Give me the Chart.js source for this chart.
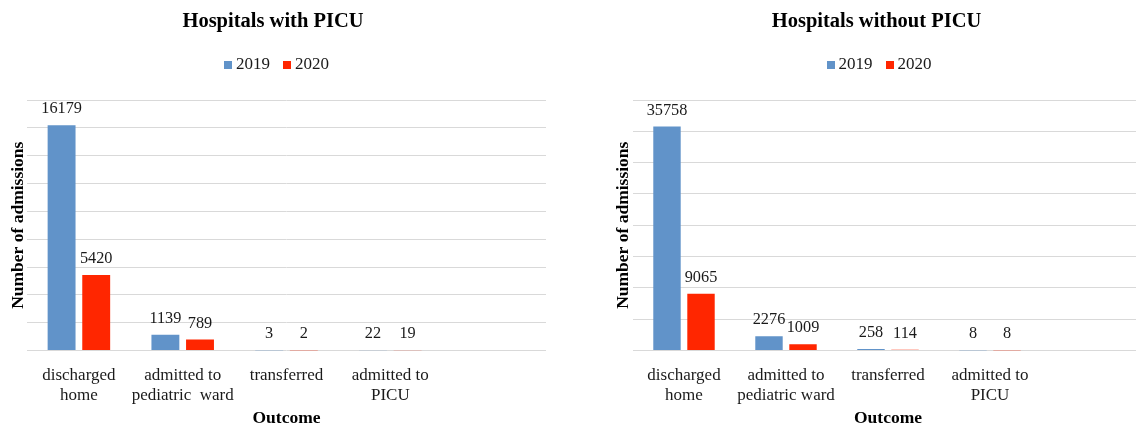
<!DOCTYPE html>
<html>
<head>
<meta charset="utf-8">
<script src="https://cdn.jsdelivr.net/npm/chart.js@4"></script>
<style>
  html, body { margin: 0; padding: 0; background: #fff; overflow: hidden; width: 1136px; height: 429px; }
  .panel { position: absolute; top: 0; width: 560px; height: 429px; }
  #panelWith { left: 0; }
  #panelWithout { left: 600px; }
</style>
</head>
<body>
<div class="panel" id="panelWith"><canvas id="chartWith" width="560" height="429"></canvas></div>
<div class="panel" id="panelWithout"><canvas id="chartWithout" width="560" height="429"></canvas></div>
<script>
// Outcome categories (multi-line tick labels)
const categoriesWithPicu = [['discharged', 'home'], ['admitted to', 'pediatric  ward'], 'transferred', ['admitted to', 'PICU']];
const categoriesWithoutPicu = [['discharged', 'home'], ['admitted to', 'pediatric ward'], 'transferred', ['admitted to', 'PICU']];
const seriesNames = ['2019', '2020'];

// Admissions, hospitals with a PICU
const withPicu2019 = [16179, 1139, 3, 22];
const withPicu2020 = [5420, 789, 2, 19];

// Admissions, hospitals without a PICU
const withoutPicu2019 = [35758, 2276, 258, 8];
const withoutPicu2020 = [9065, 1009, 114, 8];

// Value axis ranges
const withPicuAxis = [0, 18000, 2000];
const withoutPicuAxis = [0, 40000, 5000];

const FAMILY = "'Liberation Serif', 'Times New Roman', serif";
const BLUE = '#6193C9';
const RED = '#FF2600';
const INK = '#1a1a1a';

Chart.defaults.font.family = FAMILY;
Chart.defaults.color = INK;

// Writes each bar's value just above its top
const barValues = {
  id: 'barValues',
  afterDatasetsDraw(chart, args, opts) {
    const ctx = chart.ctx;
    ctx.save();
    ctx.font = opts.size + 'px ' + FAMILY;
    ctx.fillStyle = opts.color;
    ctx.textAlign = 'center';
    ctx.textBaseline = 'alphabetic';
    chart.data.datasets.forEach((ds, i) => {
      chart.getDatasetMeta(i).data.forEach((bar, j) => {
        const v = ds.data[j];
        if (v === null || v === undefined) return;
        ctx.fillText(String(v), bar.x, bar.y - opts.gap);
      });
    });
    ctx.restore();
  }
};

// Series key: small square swatches followed by the series name
const seriesKey = {
  id: 'seriesKey',
  afterDraw(chart, args, opts) {
    const ctx = chart.ctx;
    ctx.save();
    ctx.font = opts.size + 'px ' + FAMILY;
    ctx.textBaseline = 'middle';
    ctx.textAlign = 'left';
    const items = chart.data.datasets.map(ds => ({
      label: ds.label, color: ds.backgroundColor, w: ctx.measureText(ds.label).width
    }));
    const total = items.reduce((s, it) => s + opts.box + opts.gap + it.w, 0) + opts.spacing * (items.length - 1);
    let x = opts.cx - total / 2;
    items.forEach(it => {
      ctx.fillStyle = it.color;
      ctx.fillRect(Math.round(x), Math.round(opts.cy - opts.box / 2), opts.box, opts.box);
      x += opts.box + opts.gap;
      ctx.fillStyle = opts.color;
      ctx.fillText(it.label, x, opts.cy);
      x += it.w + opts.spacing;
    });
    ctx.restore();
  }
};

function buildPanel(canvasId, cfg) {
  return new Chart(document.getElementById(canvasId), {
    type: 'bar',
    data: {
      labels: [...cfg.categories, ''],
      datasets: [
        { label: seriesNames[0], data: cfg.first, backgroundColor: BLUE, borderWidth: 0 },
        { label: seriesNames[1], data: cfg.second, backgroundColor: RED, borderWidth: 0 }
      ]
    },
    options: {
      responsive: false,
      animation: false,
      layout: { padding: { left: cfg.padLeft, right: cfg.padRight, top: 0, bottom: 0 } },
      datasets: { bar: { categoryPercentage: 0.667, barPercentage: 0.806 } },
      plugins: {
        legend: { display: false },
        tooltip: { enabled: false },
        title: {
          display: true,
          text: cfg.title,
          color: '#000',
          font: { size: 20.5, weight: 'bold', family: FAMILY },
          padding: { top: 9, bottom: 66.4 }
        },
        seriesKey: { cx: cfg.keyX, cy: 65, box: 8, gap: 4, spacing: 13, size: 17, color: INK },
        barValues: { size: 16.3, gap: 12, color: INK }
      },
      scales: {
        x: {
          grid: { display: false },
          border: { display: false },
          ticks: {
            autoSkip: false, maxRotation: 0, minRotation: 0, padding: 7.5,
            color: INK, font: { size: 17, lineHeight: 20 / 17 }
          },
          title: { display: true, text: 'Outcome', color: '#000', font: { size: 17.5, weight: 'bold' }, padding: 0 },
          afterFit(scale) { scale.height = 78.5; }
        },
        y: {
          min: cfg.axis[0],
          max: cfg.axis[1],
          ticks: { display: false, stepSize: cfg.axis[2] },
          grid: { color: '#d9d9d9', lineWidth: 1, drawTicks: false },
          border: { display: false },
          title: {
            display: true, text: 'Number of admissions', color: '#000',
            font: { size: 17.5, weight: 'bold' }, padding: { top: cfg.yTitlePad, bottom: 0 }
          },
          afterFit(scale) { scale.width = cfg.yWidth; }
        }
      }
    },
    plugins: [barValues, seriesKey]
  });
}

buildPanel('chartWith', {
  title: 'Hospitals with PICU',
  categories: categoriesWithPicu,
  first: withPicu2019,
  second: withPicu2020,
  axis: withPicuAxis,
  padLeft: 0, padRight: 14, yWidth: 27, yTitlePad: 7.5,
  keyX: 276.5
});

buildPanel('chartWithout', {
  title: 'Hospitals without PICU',
  categories: categoriesWithoutPicu,
  first: withoutPicu2019,
  second: withoutPicu2020,
  axis: withoutPicuAxis,
  padLeft: 10, padRight: 17, yWidth: 23, yTitlePad: 2.5,
  keyX: 279
});
</script>
</body>
</html>
